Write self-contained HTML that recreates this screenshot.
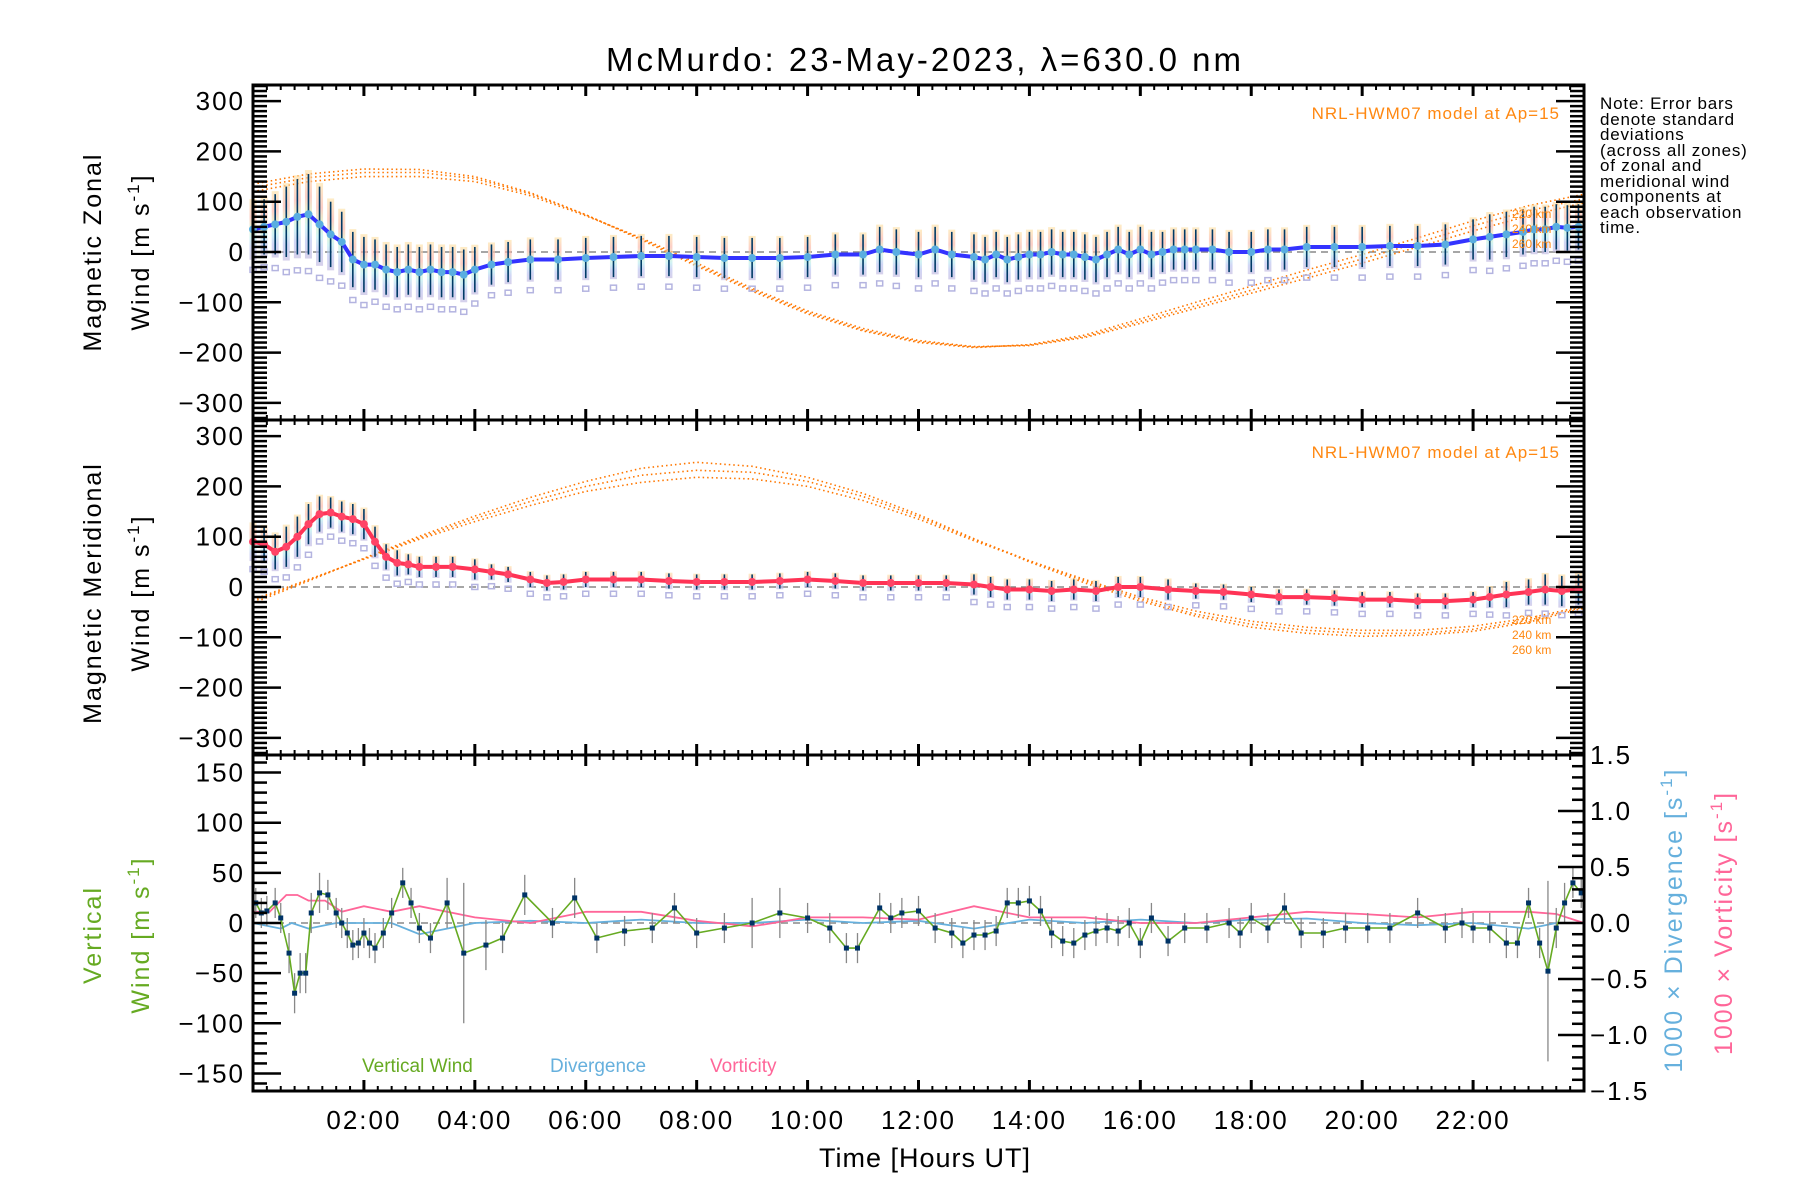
<!DOCTYPE html>
<html><head><meta charset="utf-8"><style>
body{margin:0;background:#fff}
svg{display:block;font-family:"Liberation Sans",sans-serif}
</style></head><body>
<svg id="chart" width="1800" height="1200" viewBox="0 0 1800 1200" xmlns="http://www.w3.org/2000/svg">
<defs>
<linearGradient id="rb" x1="0" y1="0" x2="0" y2="1">
<stop offset="0" stop-color="#fde3a8"/><stop offset="0.3" stop-color="#fbb4a8"/><stop offset="0.5" stop-color="#d8f4b8"/><stop offset="0.65" stop-color="#b8ecf0"/><stop offset="0.8" stop-color="#b8c0f0"/><stop offset="1" stop-color="#c0b8e0"/>
</linearGradient>
</defs>
<text x="925" y="71" font-size="33" text-anchor="middle" letter-spacing="3">McMurdo: 23-May-2023, λ=630.0 nm</text>
<g id="panels"></g>
<text transform="translate(101,252) rotate(-90)" font-size="25" text-anchor="middle" letter-spacing="2">Magnetic Zonal</text>
<text transform="translate(149,252) rotate(-90)" font-size="25" text-anchor="middle" letter-spacing="2">Wind [m s<tspan dy="-10" font-size="17">-1</tspan><tspan dy="10">]</tspan></text>
<text transform="translate(101,593) rotate(-90)" font-size="25" text-anchor="middle" letter-spacing="2">Magnetic Meridional</text>
<text transform="translate(149,593) rotate(-90)" font-size="25" text-anchor="middle" letter-spacing="2">Wind [m s<tspan dy="-10" font-size="17">-1</tspan><tspan dy="10">]</tspan></text>
<text transform="translate(101,935) rotate(-90)" font-size="25" text-anchor="middle" letter-spacing="2" fill="#66aa22">Vertical</text>
<text transform="translate(149,935) rotate(-90)" font-size="25" text-anchor="middle" letter-spacing="2" fill="#66aa22">Wind [m s<tspan dy="-10" font-size="17">-1</tspan><tspan dy="10">]</tspan></text>
<text transform="translate(1682,920) rotate(-90)" font-size="25" text-anchor="middle" letter-spacing="2" fill="#66b0dd">1000 × Divergence [s<tspan dy="-10" font-size="17">-1</tspan><tspan dy="10">]</tspan></text>
<text transform="translate(1732,923) rotate(-90)" font-size="25" text-anchor="middle" letter-spacing="2" fill="#ff6699">1000 × Vorticity [s<tspan dy="-10" font-size="17">-1</tspan><tspan dy="10">]</tspan></text>
<text x="925" y="1167" font-size="27" text-anchor="middle" letter-spacing="1">Time [Hours UT]</text>
<g font-size="17" fill="#000" letter-spacing="0.8">
<text x="1600" y="109">Note: Error bars</text><text x="1600" y="125">denote standard</text><text x="1600" y="140">deviations</text><text x="1600" y="156">(across all zones)</text><text x="1600" y="171">of zonal and</text><text x="1600" y="187">meridional wind</text><text x="1600" y="202">components at</text><text x="1600" y="218">each observation</text><text x="1600" y="233">time.</text>
</g>
<text x="1560" y="119" font-size="17" fill="#ff8811" text-anchor="end" letter-spacing="1">NRL-HWM07 model at Ap=15</text>
<text x="1560" y="458" font-size="17" fill="#ff8811" text-anchor="end" letter-spacing="1">NRL-HWM07 model at Ap=15</text>
<g font-size="12" fill="#ff8811"><text x="1512" y="218">220 km</text><text x="1512" y="233">240 km</text><text x="1512" y="248">260 km</text></g>
<g font-size="12" fill="#ff8811"><text x="1512" y="624">220 km</text><text x="1512" y="639">240 km</text><text x="1512" y="654">260 km</text></g>
<text x="362" y="1072" font-size="19" fill="#66aa22">Vertical Wind</text>
<text x="550" y="1072" font-size="19" fill="#66b0dd">Divergence</text>
<text x="710" y="1072" font-size="19" fill="#ff6699">Vorticity</text>
</svg>
<script>
const zonalTimes=[0.0,0.2,0.4,0.6,0.8,1.0,1.2,1.4,1.6,1.8,2.0,2.2,2.4,2.6,2.8,3.0,3.2,3.4,3.6,3.8,4.0,4.3,4.6,5.0,5.5,6.0,6.5,7.0,7.5,8.0,8.5,9.0,9.5,10.0,10.5,11.0,11.3,11.6,12.0,12.3,12.6,13.0,13.2,13.4,13.6,13.8,14.0,14.2,14.4,14.6,14.8,15.0,15.2,15.4,15.6,15.8,16.0,16.2,16.4,16.6,16.8,17.0,17.3,17.6,18.0,18.3,18.6,19.0,19.5,20.0,20.5,21.0,21.5,22.0,22.3,22.6,22.9,23.1,23.3,23.5,23.7,23.9];
const zonalValues=[45,50,55,60,70,75,55,35,20,-15,-25,-25,-35,-40,-35,-40,-35,-40,-40,-45,-35,-25,-20,-15,-15,-12,-10,-8,-8,-10,-12,-12,-12,-10,-5,-5,5,0,-5,5,-5,-10,-15,-5,-15,-10,-5,-5,0,-5,-5,-10,-15,-5,5,-5,5,-5,0,5,5,5,5,0,0,5,5,10,10,10,12,12,15,25,30,35,40,45,45,50,48,50];
const zonalStd=[55,55,60,70,75,80,75,65,60,55,55,50,50,50,50,50,50,50,50,50,45,40,40,40,40,40,40,40,40,40,40,40,40,40,40,40,45,45,45,45,45,45,45,45,45,45,45,45,45,45,45,45,45,45,45,45,45,45,40,40,40,40,40,40,40,40,40,40,40,40,40,40,40,40,45,45,45,45,45,45,45,45];
const meridTimes=[0.0,0.2,0.4,0.6,0.8,1.0,1.2,1.4,1.6,1.8,2.0,2.2,2.4,2.6,2.8,3.0,3.3,3.6,4.0,4.3,4.6,5.0,5.3,5.6,6.0,6.5,7.0,7.5,8.0,8.5,9.0,9.5,10.0,10.5,11.0,11.5,12.0,12.5,13.0,13.3,13.6,14.0,14.4,14.8,15.2,15.6,16.0,16.5,17.0,17.5,18.0,18.5,19.0,19.5,20.0,20.5,21.0,21.5,22.0,22.3,22.6,23.0,23.3,23.6,23.9];
const meridValues=[90,85,70,80,100,125,145,148,140,135,125,90,60,48,45,40,40,40,35,30,25,15,8,10,15,15,15,12,10,10,10,12,15,12,8,8,8,8,5,0,-5,-5,-8,-5,-8,0,0,-5,-8,-10,-15,-20,-20,-22,-25,-25,-28,-28,-25,-20,-15,-10,-5,-8,-5];
const meridStd=[35,35,35,40,40,40,35,30,30,30,30,30,25,25,20,20,20,20,20,15,15,15,15,15,15,15,15,15,15,15,15,15,15,15,15,15,15,15,20,20,20,20,20,20,20,20,20,20,15,15,15,15,15,15,15,15,15,15,15,20,25,25,30,30,30];
const modelHours=[0,1,2,3,4,5,6,7,8,9,10,11,12,13,14,15,16,17,18,19,20,21,22,23,24];
const zonal220=[120,140,150,150,140,112,72,28,-22,-72,-117,-152,-176,-188,-186,-170,-142,-112,-82,-52,-22,10,42,72,98];
const zonal240=[128,148,158,158,146,116,74,26,-25,-75,-120,-155,-178,-189,-185,-168,-138,-107,-76,-45,-14,18,52,82,106];
const zonal260=[135,155,165,164,150,118,74,24,-28,-78,-123,-157,-180,-190,-184,-165,-133,-100,-68,-36,-5,28,62,92,115];
const merid220=[-25,15,55,95,130,162,190,208,218,215,200,172,135,92,52,15,-20,-48,-68,-80,-86,-86,-78,-62,-38];
const merid240=[-28,14,56,98,136,170,200,222,232,228,210,180,140,95,52,12,-24,-54,-74,-86,-92,-92,-84,-66,-40];
const merid260=[-32,12,57,101,141,178,210,236,248,240,218,186,144,96,50,8,-28,-58,-80,-92,-98,-96,-88,-70,-42];
const vertTimes=[0.05,0.15,0.25,0.4,0.5,0.65,0.75,0.85,0.95,1.05,1.2,1.35,1.5,1.6,1.7,1.8,1.9,2.0,2.1,2.2,2.35,2.5,2.7,2.85,3.0,3.2,3.5,3.8,4.2,4.5,4.9,5.4,5.8,6.2,6.7,7.2,7.6,8.0,8.5,9.0,9.5,10.0,10.4,10.7,10.9,11.3,11.5,11.7,12.0,12.3,12.6,12.8,13.0,13.2,13.4,13.6,13.8,14.0,14.2,14.4,14.6,14.8,15.0,15.2,15.4,15.6,15.8,16.0,16.2,16.5,16.8,17.2,17.6,17.8,18.0,18.3,18.6,18.9,19.3,19.7,20.1,20.5,21.0,21.5,21.8,22.0,22.3,22.6,22.8,23.0,23.2,23.35,23.5,23.65,23.8,23.95];
const vertValues=[20,10,12,20,5,-30,-70,-50,-50,10,30,28,10,0,-10,-22,-20,-10,-20,-25,-10,10,40,20,-5,-15,20,-30,-22,-15,28,0,25,-15,-8,-5,15,-10,-5,0,10,5,-5,-25,-25,15,5,10,12,-5,-10,-20,-12,-12,-8,20,20,22,12,-10,-18,-20,-12,-8,-5,-8,0,-20,5,-18,-5,-5,0,-10,5,-5,15,-10,-10,-5,-5,-5,10,-5,0,-5,-5,-20,-20,20,-20,-48,-5,20,40,30];
const vertErr=[15,15,15,15,15,20,20,20,20,20,20,15,15,15,15,15,15,15,15,15,15,15,15,15,15,15,25,70,25,15,20,15,20,15,15,15,15,15,15,25,25,15,15,15,15,15,15,15,15,15,15,15,15,15,15,15,15,15,15,15,15,15,15,15,15,15,15,15,15,15,15,15,15,15,15,15,15,15,15,15,15,15,15,15,15,15,15,15,15,15,15,90,20,20,15,15];
const divTimes=[0,0.5,0.7,1.0,1.5,2,2.5,3,3.5,4,5,6,7,8,9,10,11,12,13,14,15,16,17,18,19,20,21,22,23,23.5,24];
const divValues=[0,-0.05,0,-0.05,0,0,0,-0.1,-0.05,0,0.02,0,0.03,0,0,0.03,0,0.02,-0.05,0.03,0,0.03,0,0.03,0.04,0,-0.02,0,-0.05,0,0];
const vortTimes=[0,0.3,0.6,0.8,1.0,1.3,1.6,2,2.5,3,3.5,4,5,6,7,8,9,10,11,12,13,14,15,16,17,18,19,20,21,22,23,23.5,24];
const vortValues=[0.1,0.1,0.25,0.25,0.2,0.2,0.1,0.15,0.1,0.15,0.1,0.05,0,0.1,0.1,0.02,-0.03,0.05,0.05,0.03,0.15,0.05,0.05,0,0,0.05,0.1,0.08,0.05,0.1,0.1,0.08,0];
const xTickLabels=["02:00","04:00","06:00","08:00","10:00","12:00","14:00","16:00","18:00","20:00","22:00"];
const windTickLabels=["300","200","100","0","−100","−200","−300"];
const vertTickLabels=["150","100","50","0","−50","−100","−150"];
const rightTickLabels=["1.5","1.0","0.5","0.0","−0.5","−1.0","−1.5"];

const NS="http://www.w3.org/2000/svg";
const L=253,R=1584;
const xs=h=>L+h*(R-L)/24;
const P=[{top:85,bot:420,zero:252,k:0.503},{top:420,bot:755,zero:587,k:0.503},{top:755,bot:1091,zero:923,k:1.003}];
const ys=(p,v)=>P[p].zero-v*P[p].k;
const yr=v=>P[2].zero-v*112;
const root=document.getElementById('panels');
function mk(tag,attrs,parent){const e=document.createElementNS(NS,tag);for(const a in attrs)e.setAttribute(a,attrs[a]);(parent||root).appendChild(e);return e;}
function grp(name){const g=mk('g',{});


return g;}
function pathD(xsArr,ysArr){return xsArr.map((x,i)=>(i?'L':'M')+x.toFixed(1)+','+ysArr[i].toFixed(1)).join('');}

[0,1,2].forEach(p=>{const l=mk('line',{x1:L,x2:R,y1:P[p].zero,y2:P[p].zero,stroke:'#888','stroke-width':1.5,'stroke-dasharray':'7 5'});

});

function model(p,arrs,name){const g=grp(name);arrs.forEach(a=>{mk('path',{d:pathD(modelHours.map(xs),a.map(v=>ys(p,v))),fill:'none',stroke:'#ff7700','stroke-width':1.6,'stroke-dasharray':'1.5 3'},g);});}
model(0,[zonal220,zonal240,zonal260],'zonal-model-curves');
model(1,[merid220,merid240,merid260],'merid-model-curves');

function windPanel(p,times,vals,std,lineCol,dotCol,name){
 const g=grp(name);
 times.forEach((t,i)=>{const x=xs(t);
  const r=mk('rect',{x:x-3.5,y:ys(p,vals[i]+std[i]*1.1),width:7,height:std[i]*2.2*P[p].k,fill:'url(#rb)',opacity:0.65},g);
  
  
  mk('rect',{x:x-3,y:ys(p,vals[i]-std[i]*1.3)+2,width:6,height:5,fill:'none',stroke:'#b4b4e0','stroke-width':1.5},g);
 });
 times.forEach((t,i)=>{const x=xs(t);
  const e=mk('line',{x1:x,x2:x,y1:ys(p,vals[i]+std[i]),y2:ys(p,vals[i]-std[i]),stroke:'#003a66','stroke-width':1.6},g);
  
  
 });
 const ln=mk('path',{d:pathD(times.map(xs),vals.map(v=>ys(p,v))),fill:'none',stroke:lineCol,'stroke-width':4},g);
 
 
 times.forEach((t,i)=>{const c=mk('circle',{cx:xs(t),cy:ys(p,vals[i]),r:4,fill:dotCol},g);
  
  });
}
windPanel(0,zonalTimes,zonalValues,zonalStd,'#3333ff','#5aaee0','zonal-series');
windPanel(1,meridTimes,meridValues,meridStd,'#ff3355','#ff4466','meridional-series');

const gd=grp('divergence-line');
mk('path',{d:pathD(divTimes.map(xs),divValues.map(yr)),fill:'none',stroke:'#66b0dd','stroke-width':1.8},gd);
const gv=grp('vorticity-line');
mk('path',{d:pathD(vortTimes.map(xs),vortValues.map(yr)),fill:'none',stroke:'#ff6699','stroke-width':1.8},gv);
const gw=grp('vertical-wind-series');
vertTimes.forEach((t,i)=>{const e=mk('line',{x1:xs(t),x2:xs(t),y1:ys(2,vertValues[i]+vertErr[i]),y2:ys(2,vertValues[i]-vertErr[i]),stroke:'#888','stroke-width':1.3},gw);
 
 });
mk('path',{d:pathD(vertTimes.map(xs),vertValues.map(v=>ys(2,v))),fill:'none',stroke:'#66aa22','stroke-width':1.6},gw);
vertTimes.forEach((t,i)=>{const m=mk('rect',{x:xs(t)-2.5,y:ys(2,vertValues[i])-2.5,width:5,height:5,fill:'#003366'},gw);
 
 });

const ga=grp('axes');
[0,1,2].forEach(p=>{
 const {top,bot}=P[p];
 mk('rect',{x:L,y:top,width:R-L,height:bot-top,fill:'none',stroke:'#000','stroke-width':3},ga);
 for(let q=1;q<96;q++){const x=xs(q/4);const major=q%8===0;const len=major?11:5;
  mk('line',{x1:x,x2:x,y1:top,y2:top+len,stroke:'#000','stroke-width':major?3:2},ga);
  mk('line',{x1:x,x2:x,y1:bot,y2:bot-len,stroke:'#000','stroke-width':major?3:2},ga);}
});
[0,1].forEach(p=>{
 for(let v=-330;v<=330;v+=10){const y=ys(p,v);if(y<P[p].top+1||y>P[p].bot-1)continue;const major=v%100===0;const len=major?28:14;
  mk('line',{x1:L,x2:L+len,y1:y,y2:y,stroke:'#000','stroke-width':2.5},ga);
  mk('line',{x1:R,x2:R-len,y1:y,y2:y,stroke:'#000','stroke-width':2.5},ga);}
 windTickLabels.forEach((s,i)=>{const t=mk('text',{x:L-8,y:ys(p,300-100*i)+9,'font-size':26,'text-anchor':'end','letter-spacing':2},ga);t.textContent=s;
  
  });
});
for(let v=-160;v<=160;v+=10){const y=ys(2,v);const major=v%50===0;mk('line',{x1:L,x2:L+(major?28:14),y1:y,y2:y,stroke:'#000','stroke-width':2.5},ga);}
vertTickLabels.forEach((s,i)=>{const t=mk('text',{x:L-8,y:ys(2,150-50*i)+9,'font-size':26,'text-anchor':'end','letter-spacing':2},ga);t.textContent=s;
 
 });
for(let q=-15;q<=15;q++){const y=yr(q/10);const major=q%5===0;mk('line',{x1:R,x2:R-(major?26:12),y1:y,y2:y,stroke:'#000','stroke-width':2.5},ga);}
rightTickLabels.forEach((s,i)=>{const t=mk('text',{x:R+6,y:yr(1.5-0.5*i)+9,'font-size':26,'letter-spacing':2},ga);t.textContent=s;
 
 });
xTickLabels.forEach((s,i)=>{const t=mk('text',{x:xs(2+2*i),y:1129,'font-size':26,'text-anchor':'middle','letter-spacing':2},ga);t.textContent=s;
 
 });
</script>
</body></html>
